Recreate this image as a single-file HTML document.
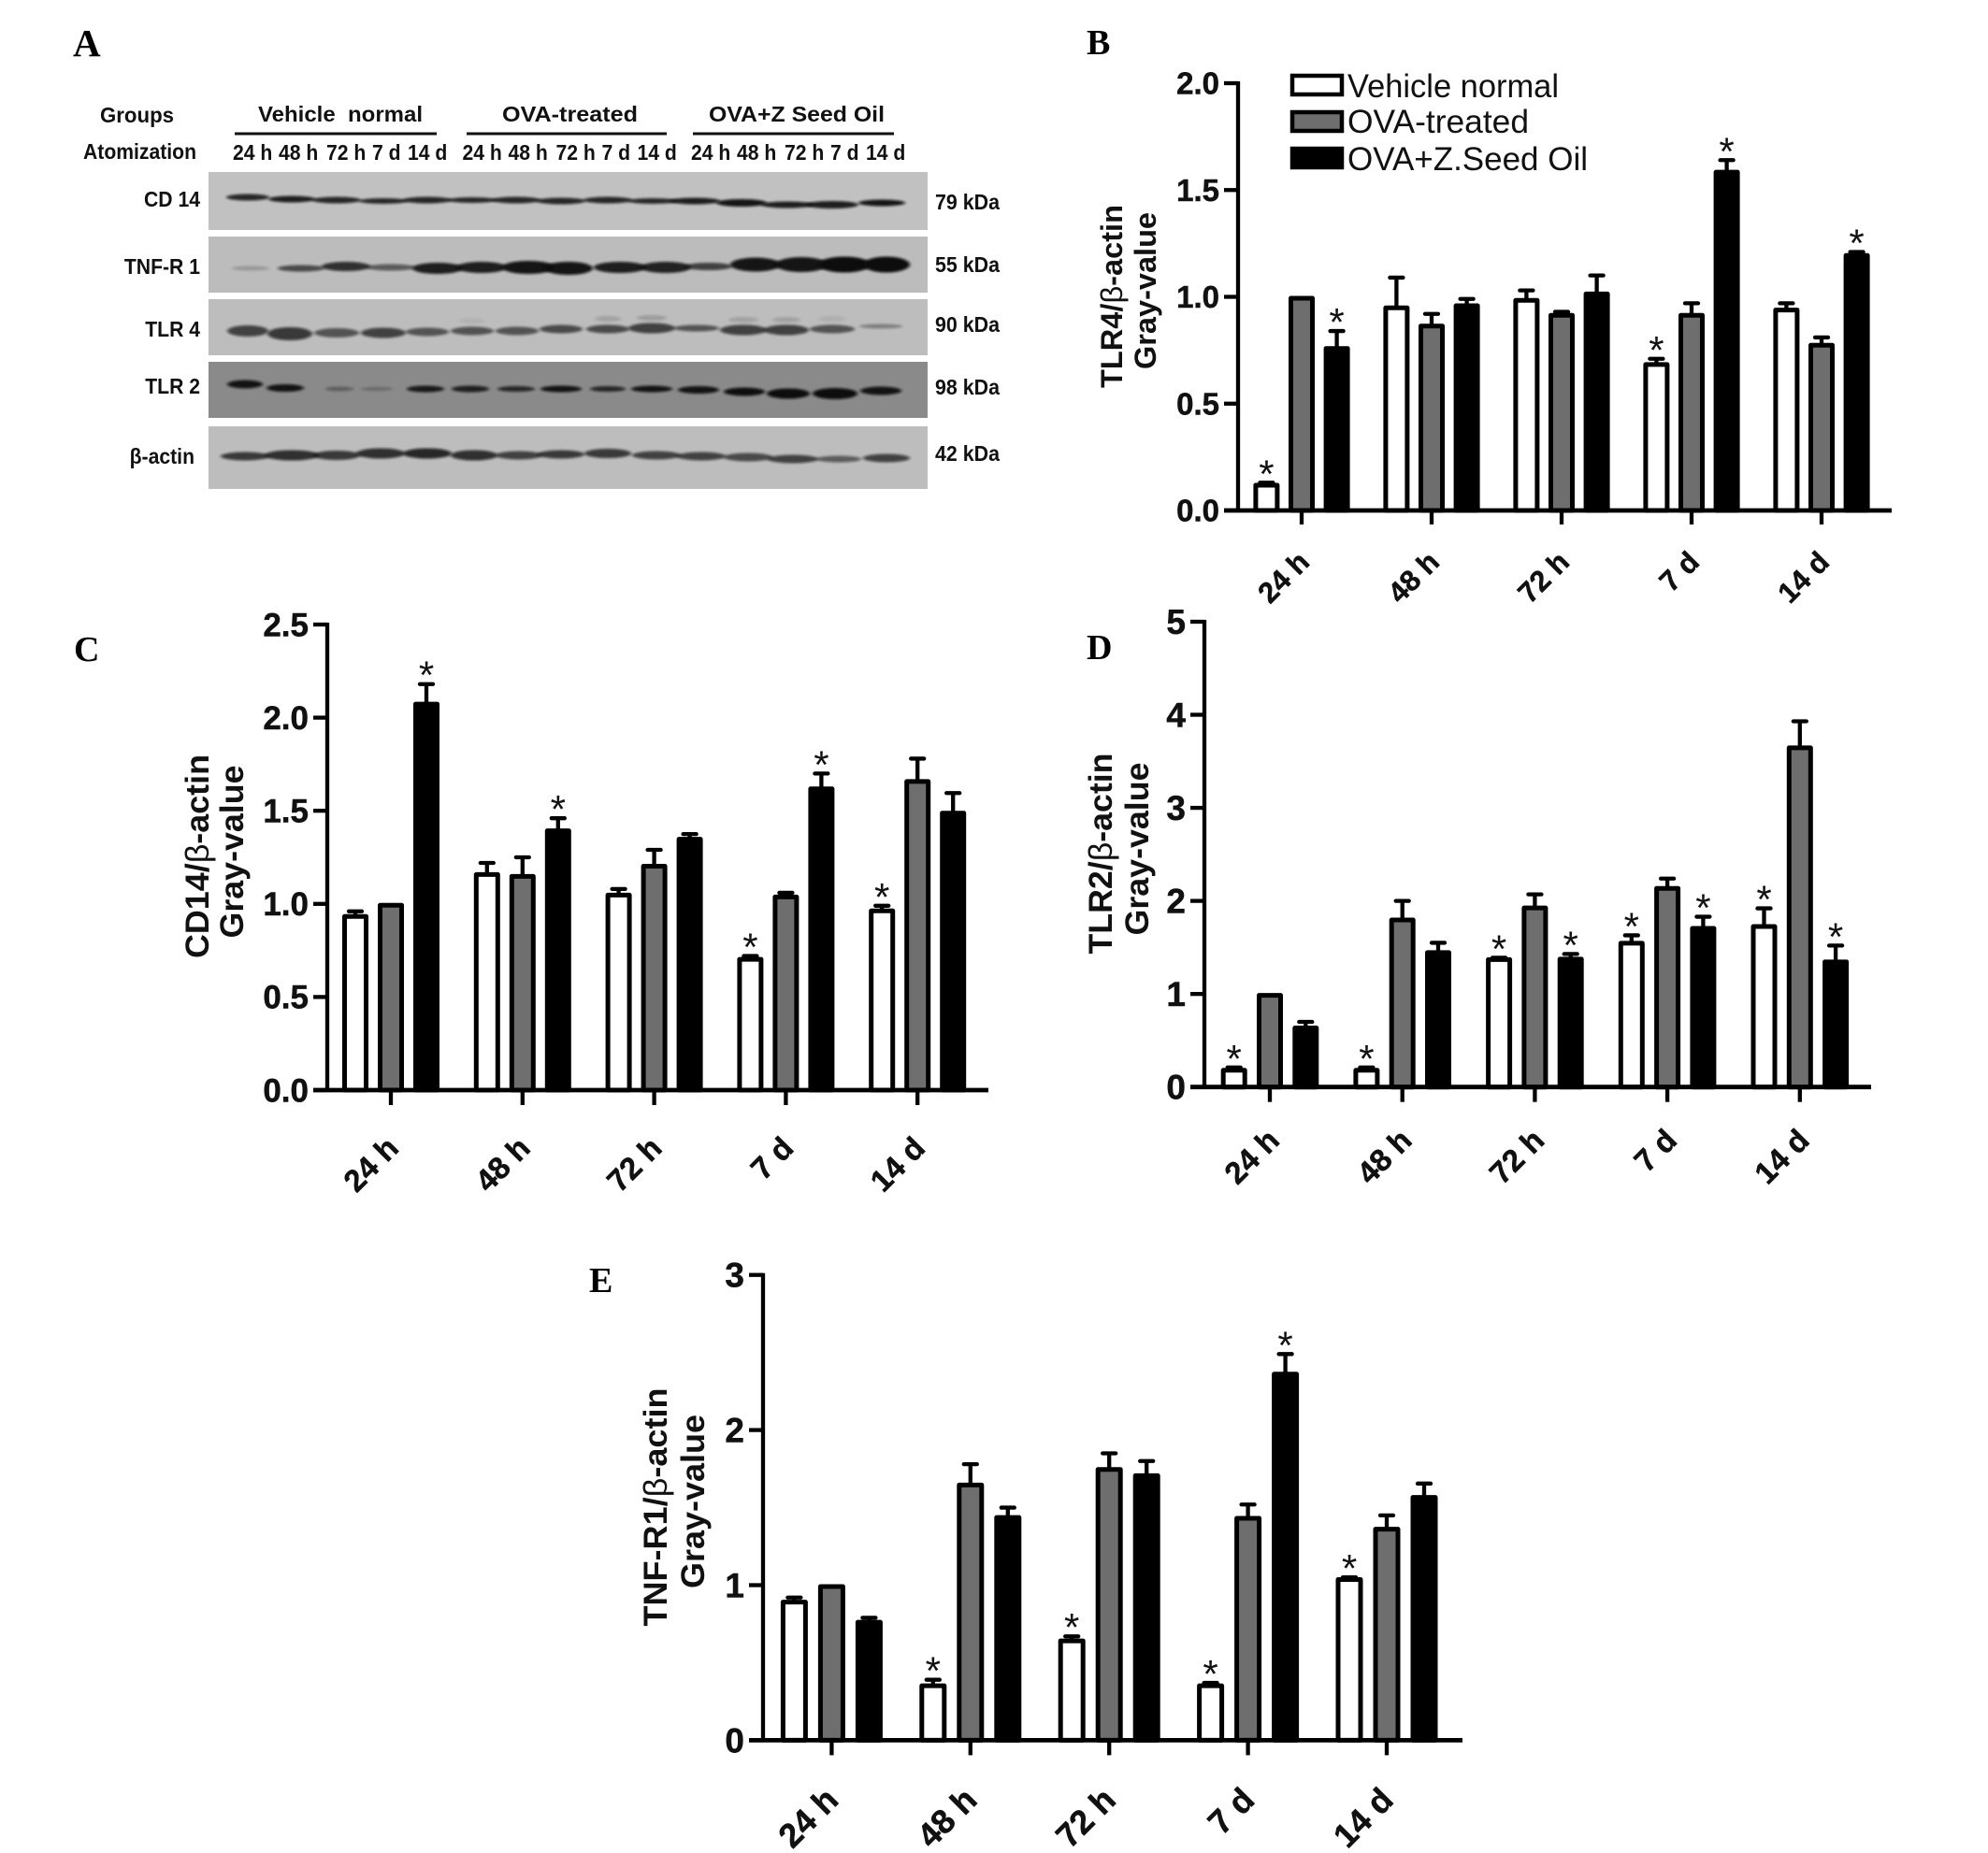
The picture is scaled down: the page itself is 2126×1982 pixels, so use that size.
<!DOCTYPE html>
<html lang="en">
<head>
<meta charset="utf-8">
<title>TLR4, CD14, TLR2 and TNF-R1 expression figure</title>
<style>
html,body{margin:0;padding:0;background:#fff;}
svg{display:block;font-family:"Liberation Sans",sans-serif;}
.panel{font-family:"Liberation Serif",serif;font-weight:700;fill:#000;}
.blot-text{font-weight:700;fill:#111;font-size:23px;}
</style>
</head>
<body>
<svg id="figure" xmlns="http://www.w3.org/2000/svg" width="2126" height="1982" viewBox="0 0 2126 1982">
<defs>
<filter id="band-blur" x="-30%" y="-100%" width="160%" height="300%"><feGaussianBlur stdDeviation="1.8 1.3"/></filter>
</defs>
<rect width="2126" height="1982" fill="#fff"/>
<text class="panel" x="78" y="60" font-size="41">A</text>
<text class="panel" x="1162" y="58" font-size="38">B</text>
<text class="panel" x="79" y="707" font-size="38">C</text>
<text class="panel" x="1162" y="705" font-size="38">D</text>
<text class="panel" x="630" y="1382" font-size="38">E</text>

<g id="panel-a">
<text class="blot-text" x="107" y="131" textLength="79" lengthAdjust="spacingAndGlyphs">Groups</text>
<text class="blot-text" x="89" y="170" textLength="121" lengthAdjust="spacingAndGlyphs">Atomization</text>
<text class="blot-text" x="276" y="130" textLength="176" lengthAdjust="spacingAndGlyphs" style="white-space:pre">Vehicle  normal</text>
<text class="blot-text" x="537" y="130" textLength="145" lengthAdjust="spacingAndGlyphs">OVA-treated</text>
<text class="blot-text" x="758" y="130" textLength="188" lengthAdjust="spacingAndGlyphs">OVA+Z Seed Oil</text>
<rect x="251" y="141.5" width="216" height="3" fill="#111"/>
<rect x="499" y="141.5" width="214" height="3" fill="#111"/>
<rect x="741" y="141.5" width="215" height="3" fill="#111"/>
</g>

<g id="panel-b"></g>
<g id="panel-c"></g>
<g id="panel-d"></g>
<g id="panel-e"></g>

<g id="legend">
<g>
<rect x="1382" y="81" width="53" height="20" fill="#fff" stroke="#000" stroke-width="4.5"/>
<text x="1441" y="104" font-size="35" textLength="226" lengthAdjust="spacingAndGlyphs" fill="#111">Vehicle normal</text>
</g>
<g>
<rect x="1382" y="120" width="53" height="20" fill="#6e6e6e" stroke="#000" stroke-width="4.5"/>
<text x="1441" y="142" font-size="35" textLength="194" lengthAdjust="spacingAndGlyphs" fill="#111">OVA-treated</text>
</g>
<g>
<rect x="1382" y="159" width="53" height="20" fill="#000" stroke="#000" stroke-width="4.5"/>
<text x="1441" y="182" font-size="35" textLength="257" lengthAdjust="spacingAndGlyphs" fill="#111">OVA+Z.Seed Oil</text>
</g>
</g>
</svg>

<script>
/* Shared categories and series */
var categories = ['24 h', '48 h', '72 h', '7 d', '14 d'];
var seriesNames = ['vehicle-normal', 'ova-treated', 'seed-oil'];

/* Panel B: TLR4 / beta-actin */
var bTicks = ['0.0', '0.5', '1.0', '1.5', '2.0'];
var bVehicle = [0.125, 0.955, 0.99, 0.69, 0.945];
var bVehicleTop = [0.13, 1.09, 1.03, 0.71, 0.97];
var bVehicleStar = [1, 0, 0, 1, 0];
var bOva = [1.0, 0.87, 0.92, 0.92, 0.78];
var bOvaTop = [1.0, 0.92, 0.93, 0.97, 0.81];
var bOvaStar = [0, 0, 0, 0, 0];
var bOil = [0.765, 0.965, 1.02, 1.59, 1.2];
var bOilTop = [0.84, 0.99, 1.10, 1.64, 1.21];
var bOilStar = [1, 0, 0, 1, 1];

/* Panel C: CD14 / beta-actin */
var cTicks = ['0.0', '0.5', '1.0', '1.5', '2.0', '2.5'];
var cVehicle = [0.94, 1.165, 1.055, 0.71, 0.97];
var cVehicleTop = [0.96, 1.22, 1.08, 0.72, 0.99];
var cVehicleStar = [0, 0, 0, 1, 1];
var cOva = [1.0, 1.155, 1.21, 1.045, 1.665];
var cOvaTop = [1.0, 1.25, 1.29, 1.06, 1.78];
var cOvaStar = [0, 0, 0, 0, 0];
var cOil = [2.08, 1.40, 1.355, 1.625, 1.495];
var cOilTop = [2.18, 1.46, 1.375, 1.70, 1.595];
var cOilStar = [1, 1, 0, 1, 0];

/* Panel D: TLR2 / beta-actin */
var dTicks = ['0', '1', '2', '3', '4', '5'];
var dVehicle = [0.195, 0.195, 1.385, 1.56, 1.74];
var dVehicleTop = [0.21, 0.21, 1.39, 1.63, 1.92];
var dVehicleStar = [1, 1, 1, 1, 1];
var dOva = [1.0, 1.81, 1.94, 2.15, 3.66];
var dOvaTop = [1.0, 2.0, 2.07, 2.24, 3.93];
var dOvaStar = [0, 0, 0, 0, 0];
var dOil = [0.65, 1.46, 1.39, 1.72, 1.36];
var dOilTop = [0.70, 1.55, 1.43, 1.83, 1.52];
var dOilStar = [0, 0, 1, 1, 1];

/* Panel E: TNF-R1 / beta-actin */
var eTicks = ['0', '1', '2', '3'];
var eVehicle = [0.90, 0.36, 0.65, 0.36, 1.045];
var eVehicleTop = [0.92, 0.39, 0.67, 0.37, 1.05];
var eVehicleStar = [0, 1, 1, 1, 1];
var eOva = [1.0, 1.655, 1.755, 1.44, 1.37];
var eOvaTop = [1.0, 1.78, 1.85, 1.52, 1.45];
var eOvaStar = [0, 0, 0, 0, 0];
var eOil = [0.77, 1.445, 1.715, 2.37, 1.575];
var eOilTop = [0.79, 1.50, 1.80, 2.49, 1.655];
var eOilStar = [0, 0, 0, 1, 0];

/* Panel A: blot row labels and relative band strengths */
var blotNames = ['CD 14', 'TNF-R 1', 'TLR 4', 'TLR 2', '\u03B2-actin'];
var blotWeights = ['79 kDa', '55 kDa', '90 kDa', '98 kDa', '42 kDa'];
var laneLabels = ['24 h', '48 h', '72 h', '7 d', '14 d'];
var cd14Strength = [0.85, 0.9, 0.85, 0.85, 0.85, 0.85, 0.85, 0.85, 0.85, 0.85, 0.9, 0.95, 0.9, 0.9, 0.95];
var tnfStrength = [0.2, 0.65, 0.8, 0.55, 0.9, 0.9, 0.95, 0.95, 0.9, 0.88, 0.7, 0.95, 0.95, 1, 1];
var tlr4Strength = [0.7, 0.75, 0.6, 0.7, 0.6, 0.6, 0.6, 0.65, 0.65, 0.7, 0.6, 0.7, 0.7, 0.6, 0.35];
var tlr4UpperStrength = [0, 0, 0, 0, 0, 0.06, 0, 0, 0.15, 0.18, 0, 0.15, 0.15, 0.08, 0];
var tlr2Strength = [0.95, 0.95, 0.35, 0.25, 0.9, 0.85, 0.8, 0.95, 0.8, 0.95, 0.95, 0.98, 1, 1, 0.95];
var actinStrength = [0.75, 0.8, 0.75, 0.8, 0.85, 0.8, 0.7, 0.75, 0.75, 0.7, 0.7, 0.65, 0.7, 0.55, 0.7];

var SVGNS = 'http://www.w3.org/2000/svg';
function make(tag, attrs, parent, text) {
  var n = document.createElementNS(SVGNS, tag);
  for (var k in attrs) n.setAttribute(k, attrs[k]);
  if (text !== undefined) n.textContent = text;
  parent.appendChild(n);
  return n;
}
function squeeze(textNode, ratio) {
  textNode.setAttribute('textLength', textNode.getComputedTextLength() * ratio);
  textNode.setAttribute('lengthAdjust', 'spacingAndGlyphs');
}

function drawChart(id, cfg, ticks, series) {
  var g = document.getElementById(id);
  var yMax = parseFloat(ticks[ticks.length - 1]);
  var yScale = function (v) { return cfg.y0 - (v / yMax) * (cfg.y0 - cfg.yTop); };
  var xScale = function (i) { return cfg.x0 + i * cfg.step; };
  var sw = cfg.lw;
  var inkStroke = 0.5;

  /* bars */
  series.forEach(function (s, si) {
    categories.forEach(function (cat, i) {
      var cx = xScale(i) + (si - 1) * cfg.pitch;
      var yv = yScale(s.values[i]);
      var yt = yScale(s.tops[i]);
      if (s.tops[i] > s.values[i]) {
        var stem = make('line', {x1: cx, x2: cx, y1: yv, y2: yt, stroke: '#000', 'stroke-width': sw}, g);
        
        
        var cap = make('line', {x1: cx - cfg.cap, x2: cx + cfg.cap, y1: yt, y2: yt, stroke: '#000', 'stroke-width': sw, 'stroke-linecap': 'round'}, g);
        
        
      }
      var bar = make('rect', {x: cx - cfg.barW / 2 + 2.5, y: yv + 1.5, width: cfg.barW - 5, height: Math.max(0, cfg.y0 - yv - 1.5), fill: s.fill, stroke: '#000', 'stroke-width': 5, 'stroke-linejoin': 'round'}, g);
      
      
      if (s.stars[i]) {
        var star = make('text', {x: cx, y: yt + 5, 'text-anchor': 'middle', 'font-size': 42, fill: '#111'}, g, '*');
        
        
      }
    });
  });

  /* axes */
  var yAxis = make('line', {x1: cfg.x, x2: cfg.x, y1: cfg.yTop - 2, y2: cfg.y0, stroke: '#000', 'stroke-width': sw}, g);
  
  
  var xAxis = make('line', {x1: cfg.xStart, x2: cfg.xEnd, y1: cfg.y0, y2: cfg.y0, stroke: '#000', 'stroke-width': sw + 0.5}, g);
  
  

  ticks.forEach(function (t) {
    var y = yScale(parseFloat(t));
    var tick = make('line', {x1: cfg.xStart, x2: cfg.x, y1: y, y2: y, stroke: '#000', 'stroke-width': sw}, g);
    
    
    var lab = make('text', {x: cfg.xStart - 5, y: y + cfg.tickFont * 0.35, 'text-anchor': 'end', 'font-size': cfg.tickFont, 'font-weight': 700, fill: '#111', stroke: '#111', 'stroke-width': inkStroke}, g, t);
    
    
  });

  categories.forEach(function (cat, i) {
    var x = xScale(i);
    var tick = make('line', {x1: x, x2: x, y1: cfg.y0, y2: cfg.y0 + cfg.tickLen, stroke: '#000', 'stroke-width': sw}, g);
    
    
    var ax = x + cfg.labDx, ay = cfg.y0 + cfg.labDy;
    var lab = make('text', {x: ax, y: ay, 'text-anchor': 'end', 'font-size': cfg.font, 'font-weight': 700, fill: '#111', stroke: '#111', 'stroke-width': inkStroke, transform: 'rotate(-45 ' + ax + ' ' + ay + ')'}, g, cat);
    
    
  });

  /* y titles */
  var t1 = make('text', {transform: 'translate(' + cfg.t1x + ' ' + cfg.t1y + ') rotate(-90)', 'text-anchor': 'middle', 'font-size': cfg.titleFont, 'font-weight': 700, textLength: cfg.t1len, lengthAdjust: 'spacingAndGlyphs', fill: '#111'}, g);
  
  
  t1.appendChild(document.createTextNode(cfg.title + '/'));
  make('tspan', {'font-weight': 400}, t1, '\u03B2');
  t1.appendChild(document.createTextNode('-actin'));
  var t2 = make('text', {transform: 'translate(' + cfg.t2x + ' ' + cfg.t2y + ') rotate(-90)', 'text-anchor': 'middle', 'font-size': cfg.titleFont, 'font-weight': 700, textLength: cfg.t2len, lengthAdjust: 'spacingAndGlyphs', fill: '#111'}, g, 'Gray-value');
  
  
}

function seriesSet(vA, tA, sA, vB, tB, sB, vC, tC, sC) {
  return [
    {name: seriesNames[0], fill: '#fff', values: vA, tops: tA, stars: sA},
    {name: seriesNames[1], fill: '#6e6e6e', values: vB, tops: tB, stars: sB},
    {name: seriesNames[2], fill: '#000', values: vC, tops: tC, stars: sC}
  ];
}

drawChart('panel-b', {x: 1324, xStart: 1309, xEnd: 2023, y0: 546, yTop: 89, x0: 1392, step: 139, pitch: 37.6, barW: 28, cap: 7, lw: 4.3, tickLen: 15, font: 31, tickFont: 33, labDx: 10, labDy: 57, titleFont: 32, title: 'TLR4', t1x: 1200, t1y: 317, t1len: 196, t2x: 1236, t2y: 311, t2len: 168},
  bTicks, seriesSet(bVehicle, bVehicleTop, bVehicleStar, bOva, bOvaTop, bOvaStar, bOil, bOilTop, bOilStar));
drawChart('panel-c', {x: 350, xStart: 335, xEnd: 1057, y0: 1166, yTop: 668, x0: 418, step: 140.8, pitch: 38, barW: 28, cap: 7, lw: 4.3, tickLen: 16, font: 33, tickFont: 35, labDx: 10, labDy: 64, titleFont: 35, title: 'CD14', t1x: 223, t1y: 916, t1len: 218, t2x: 260, t2y: 911, t2len: 185},
  cTicks, seriesSet(cVehicle, cVehicleTop, cVehicleStar, cOva, cOvaTop, cOvaStar, cOil, cOilTop, cOilStar));
drawChart('panel-d', {x: 1288, xStart: 1273, xEnd: 2001, y0: 1162.7, yTop: 665, x0: 1358, step: 141.7, pitch: 38.3, barW: 28, cap: 7, lw: 4.3, tickLen: 16, font: 33, tickFont: 37, labDx: 12, labDy: 59, titleFont: 35, title: 'TLR2', t1x: 1189, t1y: 913, t1len: 215, t2x: 1228, t2y: 908, t2len: 185},
  dTicks, seriesSet(dVehicle, dVehicleTop, dVehicleStar, dOva, dOvaTop, dOvaStar, dOil, dOilTop, dOilStar));
drawChart('panel-e', {x: 816, xStart: 801, xEnd: 1564, y0: 1861.4, yTop: 1363.7, x0: 889.4, step: 148.4, pitch: 40, barW: 29, cap: 7, lw: 4.3, tickLen: 16, font: 36, tickFont: 37, labDx: 9, labDy: 66, titleFont: 35, title: 'TNF-R1', t1x: 713, t1y: 1612, t1len: 255, t2x: 753, t2y: 1606, t2len: 186},
  eTicks, seriesSet(eVehicle, eVehicleTop, eVehicleStar, eOva, eOvaTop, eOvaStar, eOil, eOilTop, eOilStar));

/* Panel A: the photographed blot */
var blotGeometry = [
  {top: 184, h: 62, fill: '#c1c1c1', labelY: 221, weightY: 224, labelX: 214,
   x: [265,312,360,410,457,505,552,600,650,698,743,793,842,890,943],
   y: [211,213,214,215,214,214,214,215,214,215,215,217,219,219,217],
   w: [40,44,46,46,46,46,46,46,46,46,48,48,50,50,44],
   t: [5,5,5,4,5,4,5,5,5,4,5,6,5,6,5], strength: cd14Strength},
  {top: 253, h: 60, fill: '#bcbcbc', labelY: 293, weightY: 291, labelX: 214,
   x: [268,322,370,418,468,515,565,608,663,712,758,808,857,903,948],
   y: [287,287,285,286,287,286,286,287,286,286,285,283,283,283,283],
   w: [34,44,46,46,48,48,50,46,50,48,44,48,50,50,44],
   t: [3,5,8,5,10,10,12,12,10,10,6,13,14,15,15], strength: tnfStrength},
  {top: 320, h: 60, fill: '#bdbdbd', labelY: 360, weightY: 355, labelX: 214,
   x: [265,310,360,410,457,505,553,600,650,697,745,795,841,890,942],
   y: [354,357,356,356,355,354,354,352,352,351,351,353,353,352,349],
   w: [38,42,42,42,40,40,40,40,40,44,42,44,42,42,40],
   t: [10,12,8,9,7,7,7,7,7,9,5,9,9,7,3], strength: tlr4Strength, upper: tlr4UpperStrength},
  {top: 387, h: 60, fill: '#8a8a8a', labelY: 421, weightY: 422, labelX: 214,
   x: [262,305,363,403,455,503,552,600,650,697,747,796,843,893,942],
   y: [411,415,416,416,416,416,416,416,416,416,417,419,421,421,418],
   w: [32,34,24,28,34,34,34,38,32,38,38,38,40,42,38],
   t: [7,6,3,2,5,5,4,5,4,5,6,7,9,10,7], strength: tlr2Strength},
  {top: 456, h: 67, fill: '#bdbdbd', labelY: 496, weightY: 493, labelX: 208,
   x: [262,312,360,407,457,507,555,600,650,702,750,800,848,897,948],
   y: [488,487,487,485,485,487,487,486,485,487,488,489,491,491,490],
   w: [46,52,44,46,46,44,44,44,44,46,46,46,48,42,44],
   t: [7,9,8,9,9,9,7,7,8,7,7,7,7,5,7], strength: actinStrength}
];

var panelA = document.getElementById('panel-a');
blotNames.forEach(function (name, b) {
  var geo = blotGeometry[b];
  var strip = make('rect', {x: 223, y: geo.top, width: 769, height: geo.h, fill: geo.fill}, panelA);
  
  
  geo.strength.forEach(function (s, i) {
    var band = make('ellipse', {cx: geo.x[i], cy: geo.y[i], rx: geo.w[i] / 2 + 3, ry: geo.t[i] / 2 + 1, fill: '#0c0c0c', opacity: s, filter: 'url(#band-blur)'}, panelA);
    
    
    if (geo.upper && geo.upper[i] > 0) {
      var faint = make('ellipse', {cx: geo.x[i], cy: geo.y[i] - 11, rx: geo.w[i] / 2 - 6, ry: 3, fill: '#0c0c0c', opacity: geo.upper[i], filter: 'url(#band-blur)'}, panelA);
      
      
    }
  });
  var lab = make('text', {'class': 'blot-text', x: geo.labelX, y: geo.labelY, 'text-anchor': 'end'}, panelA, name);
  
  
  squeeze(lab, 0.92);
  var wt = make('text', {'class': 'blot-text', x: 1000, y: geo.weightY}, panelA, blotWeights[b]);
  
  
  squeeze(wt, 0.93);
});

var groupStarts = [249, 494.5, 739];
var laneOffsets = [0, 49, 100, 149, 187];
groupStarts.forEach(function (start) {
  laneLabels.forEach(function (label, i) {
    var lane = make('text', {'class': 'blot-text', x: start + laneOffsets[i], y: 171}, panelA, label);
    
    
    squeeze(lane, 0.92);
  });
});
</script>
</body>
</html>
